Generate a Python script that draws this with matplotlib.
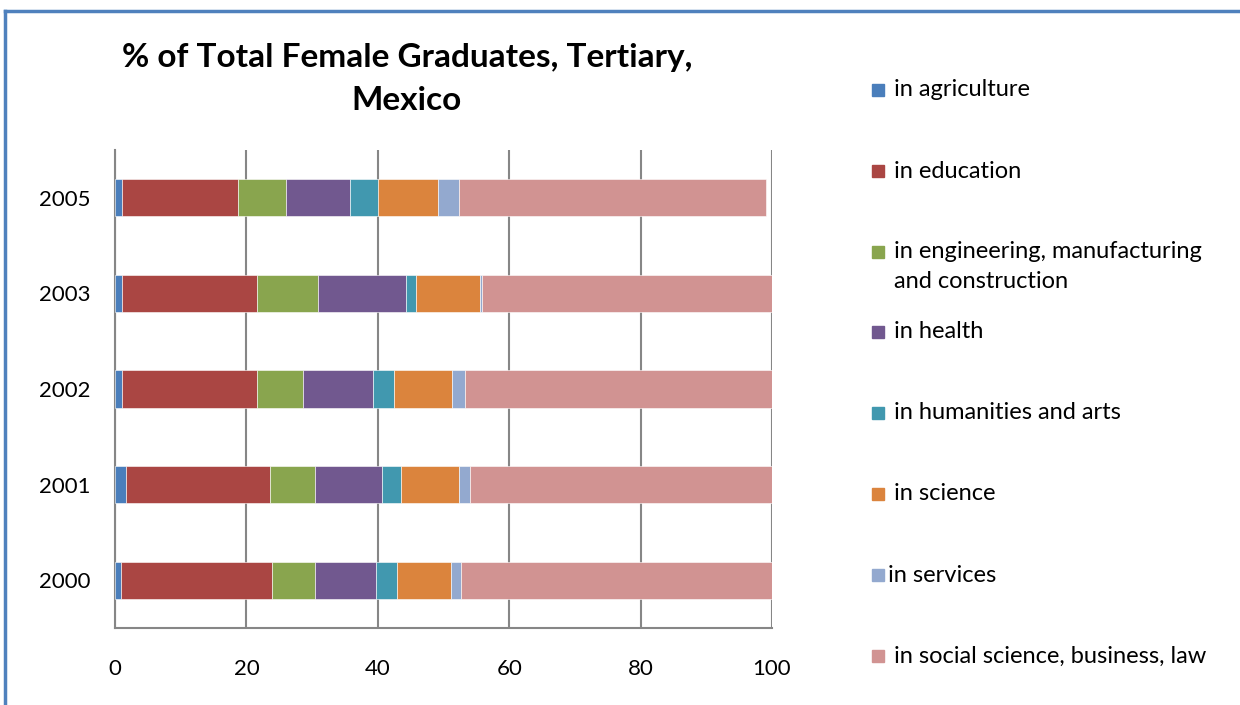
import matplotlib
matplotlib.use("Agg")
import matplotlib.pyplot as plt
import numpy as np

years = ['2000', '2001', '2002', '2003', '2005']
fields = [' in agriculture', ' in education',
          ' in engineering, manufacturing\n and construction', ' in health',
          ' in humanities and arts', ' in science', 'in services',
          ' in social science, business, law']
colors = ['#4A7EBB', '#AA4643', '#89A54E', '#71588F', '#4198AF',
          '#DB843D', '#93A9CF', '#D19392']

agriculture = [0.9, 1.6, 1.1, 1.0, 1.1]
education = [23.0, 22.0, 20.5, 20.6, 17.6]
engineering = [6.5, 6.8, 7.0, 9.3, 7.4]
health = [9.3, 10.3, 10.6, 13.4, 9.7]
humanities = [3.2, 2.9, 3.2, 1.5, 4.2]
science = [8.3, 8.7, 8.9, 9.7, 9.2]
services = [1.5, 1.7, 1.9, 0.3, 3.1]
social = [47.3, 46.0, 46.8, 44.2, 46.8]

series = [agriculture, education, engineering, health,
          humanities, science, services, social]

plt.rcParams['font.family'] = ['Lato', 'DejaVu Sans']

fig = plt.figure(figsize=(12.4, 7.05), dpi=100)
ax = fig.add_axes([115 / 1240, 1 - 628 / 705, 657 / 1240, 478 / 705])

y = np.arange(len(years))
left = np.zeros(len(years))
for vals, c, lab in zip(series, colors, fields):
    ax.barh(y, vals, left=left, height=0.39, color=c, label=lab,
            edgecolor='white', linewidth=0.4, zorder=3)
    left += np.array(vals)

ax.set_xlim(0, 100)
ax.set_ylim(-0.5, len(years) - 0.5)
ax.set_xticks([0, 20, 40, 60, 80, 100])
ax.set_yticks(y)
ax.set_yticklabels(years)
ax.tick_params(axis='both', labelsize=16, length=0, colors='black')
ax.tick_params(axis='x', pad=22)
ax.tick_params(axis='y', pad=18)
ax.grid(axis='x', color='#868686', linewidth=1.5, zorder=0)
for s in ['top', 'right']:
    ax.spines[s].set_visible(False)
for s in ['left', 'bottom']:
    ax.spines[s].set_color('#868686')
    ax.spines[s].set_linewidth(1.5)

fig.text(407 / 1240, 1 - 57 / 705, '% of Total Female Graduates, Tertiary,',
         ha='center', va='center', fontsize=24, fontweight='bold')
fig.text(407 / 1240, 1 - 101 / 705, 'Mexico',
         ha='center', va='center', fontsize=24, fontweight='bold')

# legend on the right
leg_y = [90, 171, 252, 332, 413, 494, 575, 656]
for yy, c, lab in zip(leg_y, colors, fields):
    fig.patches.append(plt.Rectangle((872 / 1240, 1 - (yy + 6) / 705),
                                     12 / 1240, 12 / 705, color=c,
                                     transform=fig.transFigure))
    if '\n' in lab:
        fig.text(888 / 1240, 1 - (yy - 11) / 705, lab, ha='left', va='top',
                 fontsize=17, linespacing=1.55)
    else:
        fig.text(888 / 1240, 1 - yy / 705, lab, ha='left', va='center',
                 fontsize=17)

# blue frame
fig.add_artist(plt.Line2D([5 / 1240, 5 / 1240], [0, 1 - 11 / 705],
                          color='#4F81BD', linewidth=2.5))
fig.add_artist(plt.Line2D([5 / 1240, 1], [1 - 11 / 705, 1 - 11 / 705],
                          color='#4F81BD', linewidth=2.5))

fig.savefig('out.png', dpi=100)
